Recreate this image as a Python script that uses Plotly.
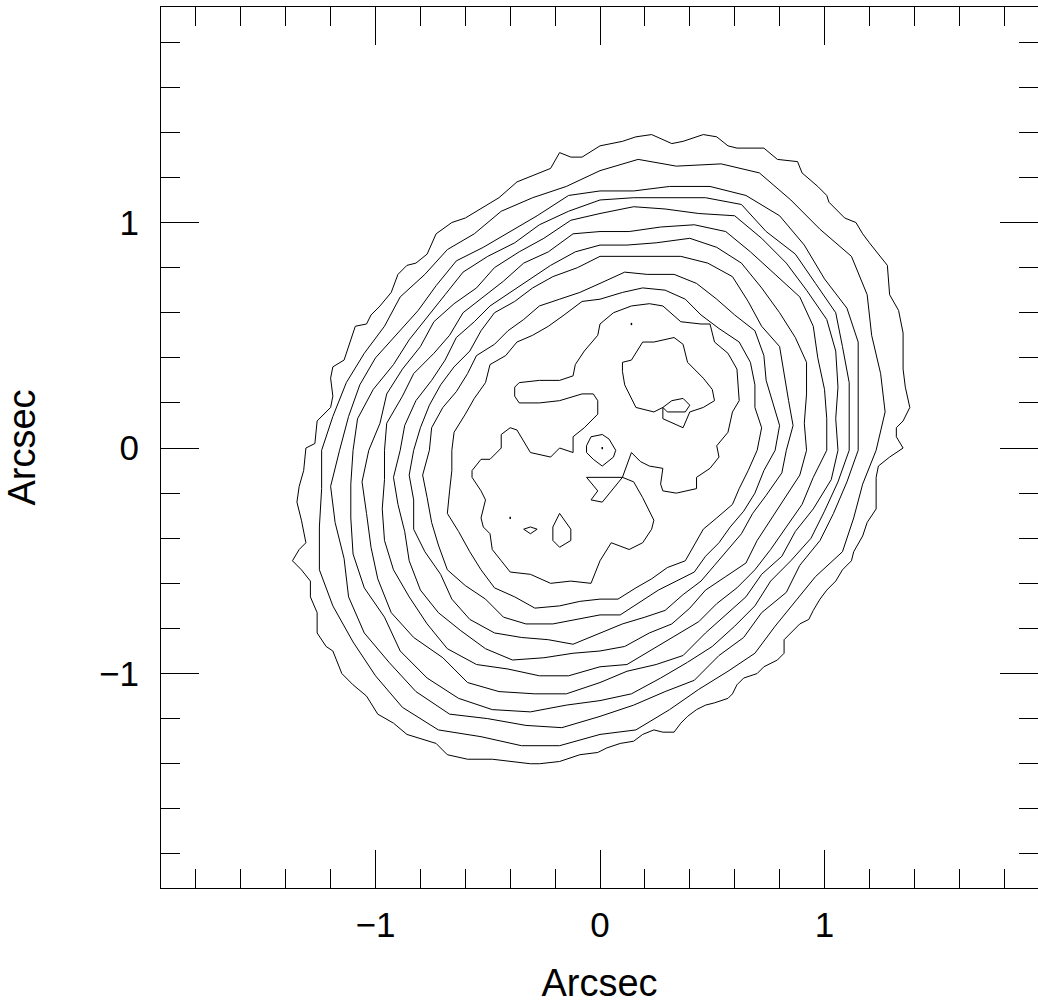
import plotly.graph_objects as go

# ---- Contour vertices (arcsec) ----
# Outermost contour
c1 = [(0.00,1.34),(0.05,1.35),(0.10,1.36),(0.16,1.38),(0.23,1.39),(0.32,1.35),(0.37,1.36),(0.46,1.39),(0.52,1.38),
      (0.57,1.34),(0.61,1.33),(0.73,1.33),(0.79,1.28),(0.88,1.27),(0.90,1.22),(0.97,1.16),(1.01,1.12),(1.02,1.09),
      (1.09,1.02),(1.14,1.00),(1.17,0.95),(1.20,0.91),(1.28,0.81),(1.29,0.68),(1.33,0.61),(1.35,0.51),(1.35,0.45),
      (1.35,0.39),(1.35,0.35),(1.36,0.27),(1.38,0.18),(1.35,0.12),(1.32,0.09),(1.32,0.05),(1.35,0.00),(1.29,-0.04),
      (1.24,-0.08),(1.23,-0.13),(1.23,-0.27),(1.19,-0.33),(1.17,-0.39),(1.13,-0.46),(1.12,-0.50),(1.08,-0.54),
      (1.05,-0.59),(1.01,-0.63),(0.98,-0.67),(0.95,-0.72),(0.93,-0.76),(0.89,-0.78),(0.86,-0.81),(0.82,-0.85),
      (0.82,-0.91),(0.79,-0.94),(0.73,-0.97),(0.70,-1.00),(0.64,-1.02),(0.61,-1.05),(0.59,-1.09),(0.57,-1.11),
      (0.51,-1.13),(0.47,-1.14),(0.43,-1.16),(0.39,-1.19),(0.36,-1.22),(0.33,-1.26),(0.28,-1.26),(0.24,-1.25),
      (0.19,-1.27),(0.15,-1.30),(0.09,-1.31),(0.03,-1.33),(-0.01,-1.35),(-0.09,-1.36),(-0.18,-1.39),(-0.27,-1.40),
      (-0.31,-1.40),(-0.39,-1.39),(-0.48,-1.38),(-0.59,-1.38),(-0.68,-1.36),(-0.73,-1.31),(-0.80,-1.29),(-0.86,-1.27),
      (-0.92,-1.22),(-0.99,-1.18),(-1.04,-1.10),(-1.10,-1.05),(-1.15,-1.00),(-1.17,-0.95),(-1.19,-0.90),(-1.22,-0.88),
      (-1.26,-0.82),(-1.26,-0.73),(-1.29,-0.66),(-1.29,-0.59),(-1.33,-0.54),(-1.37,-0.50),(-1.34,-0.45),(-1.31,-0.42),
      (-1.33,-0.32),(-1.35,-0.24),(-1.34,-0.17),(-1.32,-0.10),(-1.31,0.00),(-1.27,0.02),(-1.26,0.12),(-1.20,0.18),
      (-1.19,0.23),(-1.20,0.31),(-1.19,0.36),(-1.14,0.39),(-1.13,0.42),(-1.10,0.51),(-1.09,0.54),(-1.04,0.55),
      (-1.02,0.59),(-0.98,0.63),(-0.93,0.69),(-0.90,0.77),(-0.86,0.81),(-0.82,0.82),(-0.77,0.86),(-0.73,0.95),
      (-0.66,1.00),(-0.60,1.02),(-0.55,1.05),(-0.50,1.08),(-0.45,1.11),(-0.37,1.18),(-0.27,1.22),(-0.22,1.24),
      (-0.18,1.31),(-0.13,1.29),(-0.08,1.29)]

# Nested rings, second (c2) to tenth (c10) from the outside
c2 = [(1.23,-0.01),(1.27,0.16),(1.25,0.33),(1.21,0.50),(1.19,0.68),(1.12,0.85),(0.98,0.97),(0.85,1.10),(0.71,1.22),
      (0.54,1.26),(0.34,1.25),(0.17,1.28),(0.00,1.23),(-0.15,1.16),(-0.30,1.11),(-0.44,1.05),(-0.56,0.95),(-0.68,0.88),
      (-0.78,0.77),(-0.89,0.67),(-0.96,0.54),(-1.05,0.42),(-1.13,0.29),(-1.19,0.14),(-1.24,-0.01),(-1.24,-0.18),
      (-1.25,-0.35),(-1.25,-0.54),(-1.19,-0.70),(-1.10,-0.86),(-1.00,-1.01),(-0.88,-1.15),(-0.72,-1.25),(-0.53,-1.28),
      (-0.35,-1.32),(-0.18,-1.32),(0.00,-1.27),(0.16,-1.25),(0.31,-1.16),(0.44,-1.07),(0.57,-0.99),(0.69,-0.91),
      (0.78,-0.79),(0.87,-0.68),(0.96,-0.57),(1.08,-0.46),(1.13,-0.31),(1.17,-0.16)]
c3 = [(1.15,-0.01),(1.15,0.15),(1.15,0.30),(1.15,0.47),(1.10,0.62),(1.00,0.75),(0.91,0.90),(0.80,1.03),(0.65,1.12),
      (0.49,1.16),(0.31,1.16),(0.15,1.14),(0.00,1.14),(-0.14,1.12),(-0.28,1.03),(-0.40,0.96),(-0.52,0.89),(-0.64,0.83),
      (-0.73,0.72),(-0.81,0.61),(-0.90,0.51),(-1.00,0.40),(-1.07,0.28),(-1.12,0.14),(-1.16,-0.01),(-1.20,-0.17),
      (-1.18,-0.33),(-1.14,-0.49),(-1.12,-0.66),(-1.05,-0.82),(-0.94,-0.95),(-0.82,-1.08),(-0.67,-1.18),(-0.50,-1.20),
      (-0.33,-1.23),(-0.17,-1.24),(0.00,-1.19),(0.15,-1.14),(0.29,-1.08),(0.42,-1.03),(0.53,-0.92),(0.64,-0.84),
      (0.72,-0.73),(0.83,-0.64),(0.89,-0.52),(0.98,-0.41),(1.04,-0.29),(1.10,-0.15)]
c4 = [(1.11,-0.01),(1.11,0.14),(1.11,0.29),(1.08,0.45),(1.05,0.60),(0.96,0.73),(0.87,0.86),(0.74,0.96),(0.63,1.08),
      (0.47,1.11),(0.30,1.11),(0.15,1.11),(0.00,1.10),(-0.14,1.05),(-0.27,0.99),(-0.38,0.91),(-0.50,0.85),(-0.61,0.78),
      (-0.69,0.68),(-0.77,0.58),(-0.85,0.48),(-0.92,0.37),(-1.01,0.26),(-1.08,0.13),(-1.10,-0.01),(-1.11,-0.16),
      (-1.11,-0.31),(-1.10,-0.47),(-1.05,-0.62),(-0.96,-0.75),(-0.89,-0.90),(-0.77,-1.02),(-0.63,-1.11),(-0.48,-1.16),
      (-0.31,-1.17),(-0.15,-1.14),(0.00,-1.12),(0.14,-1.09),(0.27,-1.02),(0.39,-0.95),(0.50,-0.88),(0.60,-0.79),
      (0.69,-0.70),(0.76,-0.59),(0.85,-0.50),(0.94,-0.40),(1.00,-0.28),(1.06,-0.15)]
c5 = [(1.06,-0.01),(1.05,0.13),(1.06,0.27),(1.05,0.43),(1.01,0.57),(0.92,0.70),(0.83,0.82),(0.72,0.93),(0.60,1.03),
      (0.44,1.04),(0.29,1.06),(0.15,1.07),(0.00,1.04),(-0.13,1.01),(-0.25,0.93),(-0.36,0.87),(-0.47,0.80),(-0.55,0.71),
      (-0.65,0.64),(-0.74,0.56),(-0.80,0.45),(-0.88,0.35),(-0.95,0.24),(-0.98,0.11),(-1.03,-0.01),(-1.06,-0.15),
      (-1.04,-0.29),(-1.02,-0.44),(-0.99,-0.58),(-0.93,-0.73),(-0.83,-0.84),(-0.70,-0.93),(-0.59,-1.04),(-0.45,-1.08),
      (-0.29,-1.09),(-0.15,-1.09),(0.00,-1.04),(0.12,-0.99),(0.25,-0.96),(0.37,-0.92),(0.47,-0.82),(0.56,-0.74),
      (0.65,-0.66),(0.72,-0.56),(0.81,-0.48),(0.87,-0.37),(0.95,-0.27),(1.03,-0.14)]
c6 = [(1.01,-0.01),(1.01,0.13),(1.00,0.26),(0.97,0.40),(0.95,0.54),(0.89,0.67),(0.78,0.77),(0.67,0.87),(0.56,0.96),
      (0.42,0.99),(0.27,0.98),(0.13,0.96),(0.00,0.96),(-0.12,0.95),(-0.23,0.87),(-0.34,0.82),(-0.43,0.74),(-0.52,0.67),
      (-0.61,0.60),(-0.67,0.50),(-0.74,0.42),(-0.83,0.33),(-0.88,0.23),(-0.95,0.11),(-0.96,-0.01),(-0.96,-0.14),
      (-0.97,-0.27),(-0.96,-0.41),(-0.92,-0.54),(-0.85,-0.66),(-0.77,-0.78),(-0.68,-0.89),(-0.55,-0.96),(-0.41,-0.98),
      (-0.27,-1.01),(-0.14,-1.01),(0.00,-0.97),(0.12,-0.96),(0.24,-0.89),(0.34,-0.83),(0.44,-0.77),(0.52,-0.69),
      (0.61,-0.62),(0.69,-0.54),(0.76,-0.45),(0.83,-0.35),(0.90,-0.25),(0.95,-0.13)]
c7 = [(0.92,-0.01),(0.91,0.11),(0.92,0.24),(0.92,0.38),(0.87,0.49),(0.80,0.60),(0.72,0.71),(0.63,0.82),(0.52,0.89),
      (0.40,0.93),(0.25,0.91),(0.12,0.90),(0.00,0.90),(-0.11,0.87),(-0.22,0.81),(-0.31,0.75),(-0.40,0.69),(-0.49,0.63),
      (-0.56,0.56),(-0.64,0.49),(-0.69,0.39),(-0.75,0.30),(-0.82,0.21),(-0.87,0.10),(-0.89,-0.01),(-0.92,-0.13),
      (-0.90,-0.25),(-0.87,-0.37),(-0.85,-0.50),(-0.80,-0.63),(-0.72,-0.73),(-0.62,-0.81),(-0.51,-0.89),(-0.39,-0.94),
      (-0.25,-0.93),(-0.12,-0.91),(0.00,-0.90),(0.11,-0.88),(0.22,-0.82),(0.32,-0.78),(0.40,-0.71),(0.47,-0.63),
      (0.56,-0.57),(0.65,-0.51),(0.70,-0.41),(0.76,-0.32),(0.82,-0.23),(0.89,-0.12)]
c8 = [(0.83,-0.01),(0.86,0.10),(0.84,0.21),(0.82,0.33),(0.80,0.45),(0.72,0.54),(0.66,0.65),(0.59,0.76),(0.48,0.82),
      (0.36,0.85),(0.23,0.85),(0.12,0.85),(0.00,0.85),(-0.10,0.80),(-0.21,0.76),(-0.30,0.71),(-0.38,0.65),(-0.47,0.60),
      (-0.53,0.52),(-0.58,0.43),(-0.65,0.36),(-0.71,0.28),(-0.76,0.19),(-0.80,0.09),(-0.83,-0.01),(-0.85,-0.12),
      (-0.83,-0.23),(-0.83,-0.36),(-0.78,-0.46),(-0.71,-0.56),(-0.66,-0.67),(-0.58,-0.76),(-0.47,-0.82),(-0.35,-0.84),
      (-0.23,-0.85),(-0.12,-0.87),(0.00,-0.82),(0.10,-0.78),(0.20,-0.75),(0.29,-0.72),(0.37,-0.65),(0.45,-0.59),
      (0.51,-0.52),(0.57,-0.45),(0.63,-0.38),(0.68,-0.29),(0.74,-0.21),(0.81,-0.11)]
c9 = [(0.78,-0.01),(0.80,0.10),(0.77,0.20),(0.74,0.30),(0.73,0.41),(0.69,0.52),(0.60,0.59),(0.52,0.66),(0.43,0.73),
      (0.33,0.77),(0.21,0.77),(0.11,0.78),(0.00,0.73),(-0.09,0.69),(-0.18,0.66),(-0.27,0.63),(-0.34,0.57),(-0.41,0.52),
      (-0.47,0.46),(-0.55,0.41),(-0.59,0.33),(-0.64,0.25),(-0.70,0.18),(-0.75,0.09),(-0.76,-0.01),(-0.79,-0.12),
      (-0.77,-0.22),(-0.75,-0.33),(-0.72,-0.43),(-0.68,-0.54),(-0.60,-0.61),(-0.51,-0.67),(-0.43,-0.75),(-0.33,-0.78),
      (-0.21,-0.78),(-0.11,-0.76),(0.00,-0.74),(0.09,-0.74),(0.18,-0.68),(0.26,-0.63),(0.34,-0.59),(0.42,-0.55),
      (0.47,-0.48),(0.53,-0.42),(0.58,-0.35),(0.64,-0.28),(0.69,-0.20),(0.73,-0.10)]
c10 = [(0.70,-0.01),(0.72,0.09),(0.69,0.18),(0.69,0.28),(0.67,0.38),(0.62,0.47),(0.53,0.53),(0.45,0.59),(0.38,0.66),
       (0.29,0.70),(0.19,0.71),(0.10,0.69),(0.00,0.66),(-0.08,0.65),(-0.16,0.59),(-0.23,0.54),(-0.30,0.50),(-0.37,0.47),
       (-0.42,0.41),(-0.49,0.37),(-0.51,0.29),(-0.56,0.22),(-0.60,0.15),(-0.65,0.07),(-0.66,-0.01),(-0.66,-0.10),
       (-0.67,-0.19),(-0.68,-0.29),(-0.63,-0.37),(-0.58,-0.46),(-0.53,-0.54),(-0.47,-0.62),(-0.38,-0.66),(-0.29,-0.71),
       (-0.18,-0.70),(-0.09,-0.68),(0.00,-0.67),(0.08,-0.67),(0.16,-0.62),(0.23,-0.58),(0.30,-0.53),(0.38,-0.50),
       (0.42,-0.43),(0.46,-0.36),(0.52,-0.31),(0.59,-0.25),(0.62,-0.18),(0.66,-0.10)]

# Innermost irregular contour
c11 = [(0.00,0.55),(0.06,0.60),(0.14,0.63),(0.22,0.64),(0.28,0.63),(0.36,0.56),(0.45,0.55),(0.49,0.55),(0.51,0.47),
       (0.57,0.42),(0.61,0.35),(0.62,0.21),(0.59,0.16),(0.57,0.07),(0.52,0.01),(0.53,-0.04),(0.49,-0.09),(0.43,-0.13),
       (0.43,-0.18),(0.34,-0.20),(0.28,-0.19),(0.27,-0.16),(0.28,-0.09),(0.22,-0.08),(0.18,-0.06),(0.14,-0.02),
       (0.10,-0.13),(0.15,-0.15),(0.19,-0.22),(0.24,-0.32),(0.23,-0.36),(0.19,-0.42),(0.13,-0.45),(0.05,-0.42),
       (0.00,-0.50),(-0.04,-0.60),(-0.13,-0.59),(-0.22,-0.60),(-0.31,-0.56),(-0.40,-0.55),(-0.44,-0.50),(-0.48,-0.45),
       (-0.49,-0.38),(-0.52,-0.35),(-0.53,-0.31),(-0.51,-0.23),(-0.53,-0.19),(-0.57,-0.13),(-0.57,-0.10),(-0.53,-0.05),
       (-0.49,-0.05),(-0.44,0.00),(-0.44,0.06),(-0.40,0.09),(-0.37,0.08),(-0.31,-0.02),(-0.22,-0.04),(-0.18,0.00),
       (-0.12,-0.02),(-0.12,0.05),(-0.07,0.09),(-0.01,0.15),(-0.01,0.21),(-0.03,0.24),(-0.08,0.24),(-0.18,0.21),
       (-0.27,0.20),(-0.36,0.20),(-0.38,0.23),(-0.38,0.27),(-0.36,0.29),(-0.27,0.30),(-0.18,0.30),(-0.12,0.32),
       (-0.11,0.37),(-0.07,0.43),(-0.01,0.50)]

# Small higher-level features
blob = [(0.10,0.38),(0.14,0.39),(0.19,0.47),(0.24,0.47),(0.33,0.49),(0.37,0.46),(0.39,0.38),(0.46,0.31),(0.50,0.26),
        (0.51,0.21),(0.46,0.18),(0.40,0.16),(0.37,0.09),(0.28,0.13),(0.28,0.18),(0.24,0.16),(0.16,0.18),(0.11,0.28),
        (0.10,0.34)]
triangle = [(0.28,0.18),(0.32,0.21),(0.37,0.22),(0.40,0.19),(0.38,0.16),(0.30,0.16)]
ring_small = [(-0.06,0.01),(-0.04,0.05),(0.01,0.06),(0.04,0.04),(0.07,-0.01),(0.06,-0.04),(0.01,-0.08),(-0.03,-0.05),(-0.06,-0.02)]
diamond = [(-0.34,-0.36),(-0.31,-0.35),(-0.28,-0.36),(-0.31,-0.38)]
lens = [(-0.18,-0.29),(-0.21,-0.35),(-0.21,-0.41),(-0.18,-0.44),(-0.13,-0.41),(-0.13,-0.36)]
bow = [(-0.06,-0.13),(0.10,-0.13),(0.01,-0.24),(-0.04,-0.23),(-0.01,-0.19)]
dots = [(0.01,0.00),(0.14,0.55),(-0.40,-0.31)]

closed_contours = [c1, c2, c3, c4, c5, c6, c7, c8, c9, c10, c11,
                   blob, triangle, ring_small, diamond, lens, bow]

fig = go.Figure()
for pts in closed_contours:
    xs = [p[0] for p in pts] + [pts[0][0]]
    ys = [p[1] for p in pts] + [pts[0][1]]
    fig.add_trace(go.Scatter(x=xs, y=ys, mode="lines", line=dict(color="black", width=1),
                             hoverinfo="skip", showlegend=False))
for (dx, dy) in dots:
    fig.add_trace(go.Scatter(x=[dx, dx], y=[dy - 0.005, dy + 0.005], mode="lines",
                             line=dict(color="black", width=1.5), hoverinfo="skip", showlegend=False))

FONT = "Liberation Sans, Arial, Helvetica, sans-serif"
axis_common = dict(
    showline=True, linecolor="black", linewidth=1, mirror="allticks",
    ticks="inside", ticklen=38, tickwidth=1, tickcolor="black",
    dtick=1, tick0=0, showgrid=False, zeroline=False,
    minor=dict(ticks="inside", ticklen=19, tickwidth=1, tickcolor="black", dtick=0.2, tick0=0, showgrid=False),
    tickfont=dict(family=FONT, size=35, color="black"),
    title_font=dict(family=FONT, size=38, color="black"),
)

fig.update_layout(
    width=1038, height=1004,
    margin=dict(l=161, r=0, t=7, b=116),
    paper_bgcolor="white", plot_bgcolor="white",
    xaxis=dict(range=[-1.9555, 1.951], title=dict(text="Arcsec", standoff=30), ticklabelstandoff=6, **axis_common),
    yaxis=dict(range=[-1.951, 1.9557], title=dict(text="Arcsec", standoff=51), ticklabelstandoff=14, **axis_common),
)

fig.write_html("out.html")
